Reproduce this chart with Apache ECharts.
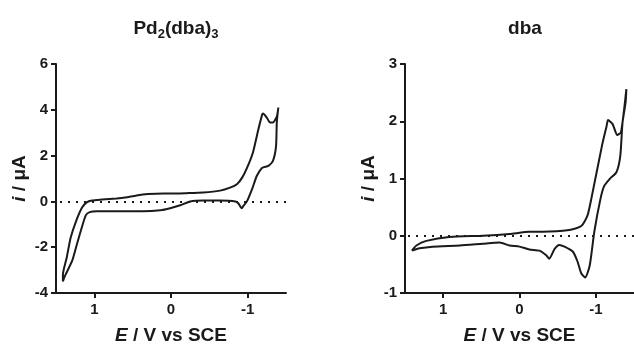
<!DOCTYPE html>
<html><head><meta charset="utf-8">
<script src="https://cdn.jsdelivr.net/npm/echarts@6/dist/echarts.min.js"></script>
<style>html,body{margin:0;padding:0;background:#fff}#c{width:634px;height:350px}</style>
</head><body><div id="c"></div>
<script>
// Left panel: Pd2(dba)3 cyclic voltammogram (E in V vs SCE, i in µA), ordered along the loop
const pdE = [1.41, 1.41, 1.36, 1.31, 1.24, 1.16, 1.10, 1.03, 0.90, 0.71, 0.60, 0.45, 0.30, 0.10, 0.00, -0.20, -0.42, -0.64, -0.77, -0.86, -0.93, -0.99, -1.07, -1.14, -1.19, -1.20, -1.25, -1.29, -1.33, -1.38, -1.40,
  -1.38, -1.37, -1.33, -1.27, -1.19, -1.12, -1.06, -0.99, -0.94, -0.92, -0.88, -0.84, -0.64, -0.42, -0.25, -0.12, 0.01, 0.14, 0.37, 0.71, 0.97, 1.06, 1.11, 1.16, 1.23, 1.29, 1.39, 1.41];
const pdI = [-3.50, -3.20, -2.45, -1.60, -0.88, -0.27, -0.04, 0.04, 0.08, 0.13, 0.17, 0.26, 0.32, 0.35, 0.34, 0.36, 0.39, 0.47, 0.60, 0.75, 1.05, 1.45, 2.15, 3.15, 3.80, 3.84, 3.66, 3.45, 3.45, 3.70, 4.10,
  3.45, 2.40, 1.77, 1.55, 1.47, 1.12, 0.56, 0.00, -0.22, -0.30, -0.09, 0.00, 0.04, 0.04, 0.00, -0.17, -0.30, -0.39, -0.43, -0.43, -0.43, -0.47, -0.60, -1.10, -1.90, -2.60, -3.30, -3.50];

// Right panel: dba cyclic voltammogram
const dbaE = [1.41, 1.35, 1.22, 0.92, 0.48, 0.13, -0.13, -0.30, -0.65, -0.81, -0.89, -0.94, -1.08, -1.14, -1.16, -1.22, -1.28, -1.33, -1.40,
  -1.39, -1.35, -1.32, -1.27, -1.18, -1.11, -1.06, -0.98, -0.92, -0.86, -0.81, -0.76, -0.70, -0.59, -0.52, -0.46, -0.39, -0.35, -0.26, -0.13, 0.00, 0.13, 0.26, 0.48, 0.78, 1.14, 1.31, 1.41];
const dbaI = [-0.26, -0.17, -0.09, -0.02, 0.00, 0.03, 0.07, 0.07, 0.10, 0.17, 0.35, 0.64, 1.57, 1.91, 2.02, 1.95, 1.76, 1.81, 2.56,
  2.33, 1.98, 1.39, 1.11, 0.99, 0.87, 0.64, 0.07, -0.52, -0.73, -0.66, -0.45, -0.28, -0.19, -0.16, -0.23, -0.40, -0.34, -0.26, -0.24, -0.19, -0.17, -0.12, -0.14, -0.17, -0.19, -0.22, -0.26];

const xTicks = [-1, 0, 1];
const pdYTicks = [-4, -2, 0, 2, 4, 6];
const dbaYTicks = [-1, 0, 1, 2, 3];
const titles = ['Pd2(dba)3', 'dba'];

const zip = (a, b) => a.map((v, k) => [v, b[k]]);
const FONT = 'Liberation Sans';
const ink = '#1a1a1a';

function xAxis(idx) {
  return {
    gridIndex: idx, type: 'value', min: -1.5, max: 1.5, inverse: true, position: 'bottom',
    name: '{it|E} / V vs SCE', nameLocation: 'middle', nameGap: 33,
    nameTextStyle: { fontFamily: FONT, fontWeight: 'bold', fontSize: 19, color: ink,
      rich: { it: { fontFamily: FONT, fontWeight: 'bold', fontStyle: 'italic', fontSize: 19, color: ink } } },
    axisLine: { onZero: false, lineStyle: { color: ink, width: 2 } },
    axisTick: { show: true, length: 5, lineStyle: { color: ink, width: 2 }, customValues: xTicks },
    axisLabel: { fontFamily: FONT, fontWeight: 'bold', fontSize: 15, color: ink, margin: 9,
      customValues: xTicks, formatter: v => String(v) },
    splitLine: { show: false }
  };
}
function yAxis(idx, ticks) {
  return {
    gridIndex: idx, type: 'value', position: 'left', min: ticks[0], max: ticks[ticks.length - 1], interval: ticks[1] - ticks[0],
    name: '{it|i} / μA', nameLocation: 'middle', nameGap: 27, nameRotate: 90,
    nameTextStyle: { fontFamily: FONT, fontWeight: 'bold', fontSize: 19, color: ink,
      rich: { it: { fontFamily: FONT, fontWeight: 'bold', fontStyle: 'italic', fontSize: 19, color: ink } } },
    axisLine: { show: true, onZero: false, lineStyle: { color: ink, width: 2 } },
    axisTick: { show: true, length: 5, lineStyle: { color: ink, width: 2 } },
    axisLabel: { fontFamily: FONT, fontWeight: 'bold', fontSize: 15, color: ink, margin: 8 },
    splitLine: { show: false }
  };
}
function cv(idx, data) {
  return {
    type: 'line', xAxisIndex: idx, yAxisIndex: idx, data: data, showSymbol: false, symbol: 'none',
    smooth: 0.2, lineStyle: { color: ink, width: 2 }, silent: true, animation: false,
    markLine: { silent: true, symbol: 'none', label: { show: false },
      lineStyle: { color: ink, width: 2, type: [2, 6] }, data: [{ yAxis: 0 }] }
  };
}

const chart = echarts.init(document.getElementById('c'), null, { renderer: 'canvas' });
chart.setOption({
  animation: false,
  backgroundColor: '#fff',
  title: [
    { text: '{m|Pd}{s|2}{m|(dba)}{s|3}', left: 171, top: 12, textAlign: 'center',
      textStyle: { rich: {
        m: { fontFamily: FONT, fontWeight: 'bold', fontSize: 19, color: ink },
        s: { fontFamily: FONT, fontWeight: 'bold', fontSize: 13, color: ink, padding: [11, 0, 0, 0] } } } },
    { text: titles[1], left: 520, top: 14, textAlign: 'center',
      textStyle: { fontFamily: FONT, fontWeight: 'bold', fontSize: 19, color: ink } }
  ],
  grid: [
    { left: 56, top: 64, width: 230, height: 231 },
    { left: 405, top: 64, width: 229, height: 231 }
  ],
  xAxis: [xAxis(0), xAxis(1)],
  yAxis: [yAxis(0, pdYTicks), yAxis(1, dbaYTicks)],
  series: [cv(0, zip(pdE, pdI)), cv(1, zip(dbaE, dbaI))]
});
</script></body></html>
